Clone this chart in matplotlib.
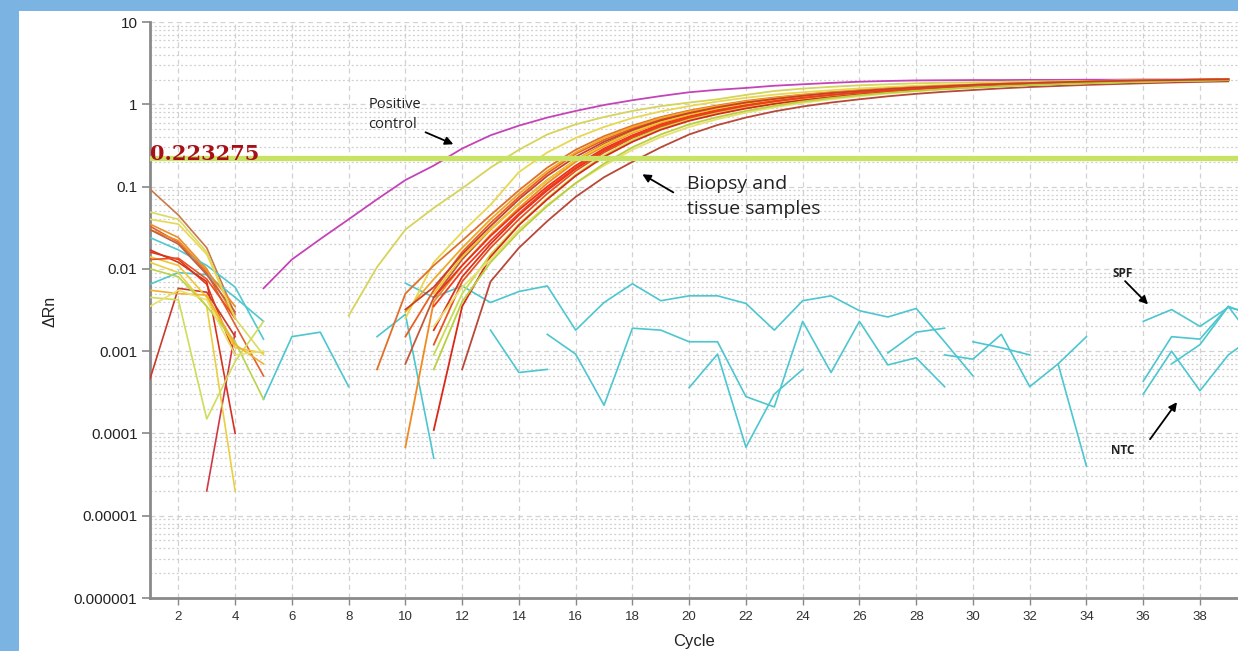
import numpy as np
import matplotlib
matplotlib.use('Agg')
import matplotlib.pyplot as plt
from matplotlib.patches import Rectangle
from matplotlib.ticker import LogLocator, FixedLocator, NullFormatter

# --- data -------------------------------------------------------------
threshold = 0.223275

early_cycles = [1, 2, 3, 4, 5]
early_curves = [
    [0.093, 0.045, 0.018, 0.0028, None],
    [0.049, 0.040, 0.016, 0.0025, 0.0009],
    [0.035, 0.024, 0.010, 0.0025, None],
    [0.033, 0.021, 0.009, 0.0021, 0.0005],
    [0.024, 0.017, 0.011, 0.0060, 0.0014],
    [0.0065, 0.009, 0.0085, 0.0045, 0.0023],
    [0.016, 0.013, 0.0065, 0.0009, None],
    [0.017, 0.012, 0.007, 0.0001, None],
    [0.00046, 0.0058, 0.0052, 0.0015, None],
    [None, None, 0.00002, 0.0017, None],
    [0.012, 0.009, 0.0035, 0.00002, None],
    [0.0045, 0.0042, 0.00015, 0.00075, 0.0023],
    [0.014, 0.011, 0.0045, 0.0011, 0.00095],
    [0.010, 0.008, 0.0035, 0.0013, 0.00026],
    [0.030, 0.022, 0.0095, 0.0035, None],
    [0.013, 0.0135, 0.0075, 0.0025, None],
    [0.0055, 0.005, 0.0048, 0.0012, 0.0007],
    [0.0035, 0.0055, 0.0042, 0.0009, 0.001],
    [0.030, 0.020, 0.0085, 0.003, None],
    [0.040, 0.035, 0.015, 0.0025, None],
]
early_colors = ['#c8784a', '#d8dc60', '#e8902a', '#e06030', '#4fc8d0', '#4fc8d0',
                '#e03a1c', '#d83020', '#c83a2a', '#d03848', '#e8d040', '#d0dc58',
                '#f0c830', '#b8d448', '#f08a28', '#e85020', '#f0b030', '#e8e070',
                '#c06040', '#e8d850']

pos_cycles = list(range(5, 40))
pos_control = [0.0058, 0.013, 0.023, 0.040, 0.070, 0.12, 0.18, 0.29, 0.42, 0.55,
               0.69, 0.83, 0.98, 1.12, 1.26, 1.40, 1.50, 1.58, 1.68, 1.75,
               1.82, 1.88, 1.92, 1.95, 1.96, 1.97, 1.97, 1.98, 1.98, 1.99,
               1.99, 2.0, 2.0, 2.0, 2.0]

amp_cycles = list(range(8, 40))
N = None
amp_curves = [
    # early yellow sample
    [0.0027, 0.0105, 0.030, 0.055, 0.095, 0.17, 0.28, 0.43, 0.57, 0.70, 0.83, 0.95, 1.05, 1.15, 1.30, 1.45,
     1.55, 1.63, 1.70, 1.75, 1.80, 1.83, 1.85, 1.87, 1.89, 1.90, 1.92, 1.93, 1.94, 1.95, 1.96, 1.97],
    [N, N, 0.0025, 0.012, 0.028, 0.06, 0.15, 0.26, 0.39, 0.53, 0.68, 0.82, 0.95, 1.08, 1.2, 1.31,
     1.4, 1.48, 1.56, 1.62, 1.68, 1.72, 1.77, 1.81, 1.85, 1.88, 1.91, 1.94, 1.96, 1.98, 2.0, 2.01],
    [N, 0.0006, 0.005, 0.011, 0.022, 0.045, 0.09, 0.17, 0.28, 0.41, 0.55, 0.7, 0.84, 0.97, 1.1, 1.21,
     1.31, 1.4, 1.48, 1.55, 1.61, 1.67, 1.72, 1.76, 1.8, 1.84, 1.87, 1.9, 1.93, 1.95, 1.97, 1.99],
    [N, N, 0.0007, 0.0045, 0.013, 0.03, 0.062, 0.12, 0.21, 0.33, 0.47, 0.62, 0.77, 0.9, 1.03, 1.15,
     1.26, 1.35, 1.44, 1.52, 1.58, 1.64, 1.69, 1.74, 1.78, 1.82, 1.85, 1.88, 1.91, 1.94, 1.96, 1.98],
    [N, N, 0.000068, 0.004, 0.011, 0.026, 0.055, 0.11, 0.2, 0.31, 0.45, 0.6, 0.74, 0.88, 1.0, 1.12,
     1.23, 1.33, 1.42, 1.5, 1.57, 1.63, 1.68, 1.73, 1.77, 1.81, 1.85, 1.88, 1.91, 1.93, 1.95, 1.97],
    [N, N, N, 0.0045, 0.011, 0.025, 0.052, 0.1, 0.18, 0.29, 0.42, 0.57, 0.71, 0.85, 0.98, 1.1,
     1.21, 1.31, 1.4, 1.48, 1.55, 1.61, 1.67, 1.72, 1.77, 1.81, 1.85, 1.89, 1.92, 1.95, 1.98, 2.0],
    [N, N, N, 0.0018, 0.008, 0.02, 0.045, 0.09, 0.165, 0.27, 0.4, 0.54, 0.68, 0.82, 0.95, 1.07,
     1.18, 1.28, 1.37, 1.46, 1.53, 1.6, 1.66, 1.71, 1.76, 1.8, 1.84, 1.88, 1.91, 1.94, 1.97, 2.0],
    [N, N, N, 0.005, 0.014, 0.03, 0.062, 0.12, 0.21, 0.32, 0.46, 0.61, 0.75, 0.89, 1.02, 1.14,
     1.25, 1.35, 1.44, 1.52, 1.59, 1.65, 1.7, 1.75, 1.79, 1.83, 1.86, 1.89, 1.92, 1.94, 1.96, 1.98],
    [N, N, N, 0.0012, 0.007, 0.018, 0.04, 0.082, 0.155, 0.26, 0.39, 0.53, 0.67, 0.8, 0.93, 1.05,
     1.16, 1.26, 1.36, 1.44, 1.52, 1.59, 1.65, 1.7, 1.75, 1.8, 1.84, 1.88, 1.91, 1.94, 1.97, 2.0],
    [N, N, N, 0.0009, 0.005, 0.015, 0.035, 0.072, 0.14, 0.24, 0.37, 0.51, 0.65, 0.78, 0.91, 1.03,
     1.14, 1.24, 1.33, 1.42, 1.49, 1.56, 1.62, 1.68, 1.73, 1.77, 1.81, 1.85, 1.88, 1.91, 1.94, 1.96],
    [N, N, N, 0.00011, 0.0035, 0.014, 0.034, 0.07, 0.135, 0.23, 0.35, 0.49, 0.63, 0.76, 0.89, 1.01,
     1.12, 1.22, 1.32, 1.41, 1.49, 1.56, 1.63, 1.69, 1.74, 1.79, 1.83, 1.87, 1.9, 1.93, 1.96, 1.99],
    [N, N, N, N, 0.0006, 0.007, 0.018, 0.038, 0.075, 0.13, 0.2, 0.3, 0.43, 0.56, 0.69, 0.82,
     0.94, 1.05, 1.15, 1.25, 1.34, 1.42, 1.49, 1.56, 1.62, 1.67, 1.72, 1.76, 1.8, 1.84, 1.87, 1.9],
    [N, N, N, 0.002, 0.006, 0.013, 0.03, 0.06, 0.11, 0.18, 0.28, 0.4, 0.53, 0.66, 0.79, 0.92,
     1.04, 1.15, 1.25, 1.35, 1.44, 1.52, 1.59, 1.65, 1.71, 1.76, 1.8, 1.84, 1.88, 1.91, 1.94, 1.97],
    [N, N, 0.0015, 0.0055, 0.016, 0.036, 0.075, 0.145, 0.25, 0.37, 0.51, 0.66, 0.8, 0.94, 1.06, 1.18,
     1.28, 1.38, 1.46, 1.54, 1.61, 1.67, 1.72, 1.77, 1.81, 1.85, 1.88, 1.91, 1.94, 1.96, 1.98, 2.0],
    [N, N, N, 0.0035, 0.0095, 0.022, 0.047, 0.094, 0.17, 0.28, 0.41, 0.56, 0.7, 0.84, 0.97, 1.09,
     1.2, 1.3, 1.39, 1.47, 1.55, 1.62, 1.68, 1.73, 1.78, 1.83, 1.87, 1.91, 1.94, 1.97, 2.0, 2.02],
    [N, N, 0.003, 0.0075, 0.018, 0.04, 0.082, 0.155, 0.26, 0.39, 0.53, 0.68, 0.82, 0.95, 1.08, 1.19,
     1.3, 1.39, 1.47, 1.55, 1.62, 1.68, 1.73, 1.78, 1.82, 1.86, 1.89, 1.92, 1.95, 1.97, 1.99, 2.01],
    [N, N, N, 0.0006, 0.004, 0.012, 0.028, 0.058, 0.11, 0.19, 0.3, 0.43, 0.57, 0.7, 0.83, 0.96,
     1.08, 1.19, 1.29, 1.38, 1.46, 1.53, 1.6, 1.66, 1.71, 1.76, 1.8, 1.84, 1.88, 1.91, 1.94, 1.97],
    [N, N, 0.0032, 0.006, 0.015, 0.033, 0.07, 0.135, 0.23, 0.35, 0.49, 0.64, 0.78, 0.92, 1.05, 1.16,
     1.27, 1.37, 1.45, 1.53, 1.6, 1.66, 1.72, 1.77, 1.81, 1.85, 1.89, 1.92, 1.95, 1.97, 1.99, 2.01],
]
amp_colors = ['#d6d45a', '#e8d850', '#e07028', '#c05a3a', '#f08a20', '#e8321a',
              '#e03018', '#f0c828', '#e85020', '#c8dc50', '#d82818', '#b84838',
              '#e8e070', '#e86020', '#f03c1c', '#f0a828', '#b8d040', '#c8402a']

# cyan wells (SPF / NTC), (cycles, values)
cyan_wells = [
    (list(range(5, 9)), [0.00026, 0.0015, 0.0017, 0.00037]),
    (list(range(9, 12)), [0.0015, 0.0028, 0.00005]),
    (list(range(10, 31)), [0.0067, 0.0045, 0.0062, 0.0039, 0.0053, 0.0062, 0.0018, 0.0039, 0.0066,
                           0.0041, 0.0047, 0.0047, 0.0038, 0.0018, 0.0041, 0.0047, 0.0031, 0.0026,
                           0.0033, 0.0013, 0.0005]),
    (list(range(13, 16)), [0.0018, 0.00055, 0.0006]),
    (list(range(15, 30)), [0.0016, 0.00092, 0.00022, 0.0019, 0.0018, 0.0013, 0.0013, 0.00028,
                           0.00021, 0.0023, 0.00055, 0.0023, 0.00068, 0.00083, 0.00037]),
    (list(range(20, 25)), [0.00036, 0.00092, 0.000068, 0.0003, 0.0006]),
    (list(range(27, 30)), [0.00095, 0.0017, 0.0019]),
    (list(range(29, 35)), [0.0009, 0.0008, 0.0016, 0.00037, 0.0007, 0.0015]),
    (list(range(30, 33)), [0.0013, 0.0011, 0.0009]),
    (list(range(33, 35)), [0.0007, 0.00004]),
    (list(range(36, 41)), [0.0023, 0.0032, 0.0020, 0.0034, 0.0028]),
    (list(range(36, 41)), [0.00043, 0.0015, 0.0014, 0.0035, 0.0026]),
    (list(range(36, 41)), [0.0003, 0.0010, 0.00033, 0.0009, 0.0016]),
    (list(range(37, 41)), [0.0007, 0.0012, 0.0035, 0.0012]),
]

y_ticks = [1e-6, 1e-5, 1e-4, 1e-3, 1e-2, 1e-1, 1, 10]
y_ticklabels = ['0.000001', '0.00001', '0.0001', '0.001', '0.01', '0.1', '1', '10']
x_ticks = list(range(2, 40, 2))

# --- figure -----------------------------------------------------------
W, H = 1238, 651
fig = plt.figure(figsize=(W / 100, H / 100), dpi=100, facecolor='#7bb3e3')
fig.patches.append(Rectangle((19 / W, 0), 1, (H - 11) / H, transform=fig.transFigure,
                             facecolor='white', edgecolor='none', zorder=-1))
ax = fig.add_axes([150 / W, (H - 598) / H, (W - 150) / W, (598 - 22) / H])
ax.set_facecolor('white')
ax.set_yscale('log')
ax.set_xlim(1, 39.34)
ax.set_ylim(1e-6, 10)

for cyc, vals in cyan_wells:
    ax.plot(cyc, vals, color='#4cc6cf', lw=1.2, zorder=2)

for vals, col in zip(early_curves, early_colors):
    ax.plot(early_cycles, np.array(vals, dtype=float), color=col, lw=1.2, zorder=3)

ax.plot(pos_cycles, pos_control, color='#c444b8', lw=1.3, zorder=3)

for vals, col in zip(amp_curves, amp_colors):
    ax.plot(amp_cycles, np.array(vals, dtype=float), color=col, lw=1.3, zorder=4)

ax.axhline(threshold, color='#c8e264', lw=3.8, zorder=6)
ax.text(1.0, 0.209, '0.223275', color='#a81018', fontsize=15, fontweight='bold',
        family='DejaVu Serif', ha='left', va='baseline', zorder=7)

# grid
ax.yaxis.set_minor_locator(LogLocator(base=10, subs=np.arange(2, 10)))
ax.yaxis.set_minor_formatter(NullFormatter())
ax.grid(which='major', color='#d2d2d2', ls=(0, (4, 3)), lw=0.9)
ax.grid(which='minor', axis='y', color='#cfcfcf', ls=(0, (1.5, 2)), lw=0.9)
ax.tick_params(which='minor', length=0)

ax.set_yticks(y_ticks)
ax.set_yticklabels(y_ticklabels)
ax.xaxis.set_major_locator(FixedLocator(x_ticks))
ax.tick_params(axis='y', which='major', length=6, width=1.2, color='#888888', pad=3,
               labelsize=11, labelcolor='#222222')
ax.tick_params(axis='x', which='major', length=5, width=1.0, color='#888888', pad=4,
               labelsize=9.5, labelcolor='#333333')
for lab in ax.get_yticklabels():
    lab.set_family('Liberation Sans')
for lab in ax.get_xticklabels():
    lab.set_family('Liberation Sans')

for s in ['top', 'right']:
    ax.spines[s].set_visible(False)
for s in ['left', 'bottom']:
    ax.spines[s].set_color('#8a8a8a')
    ax.spines[s].set_linewidth(2)

ax.set_xlabel('Cycle', fontsize=12, family='Liberation Sans', color='#222222', labelpad=8)
ax.set_ylabel('ΔRn', fontsize=11.5, family='Liberation Sans', color='#222222')
ax.yaxis.set_label_coords(-0.085, 0.497)

# annotations
arrow = dict(arrowstyle='-|>', color='black', lw=1.3, mutation_scale=12, shrinkA=0, shrinkB=0)
ax.text(8.69, 1.22, 'Positive\ncontrol', fontsize=10.5, family='Open Sans', va='top',
        ha='left', color='#222222', linespacing=1.4, zorder=8)
ax.annotate('', xy=(11.69, 0.327), xytext=(10.71, 0.457), arrowprops=arrow, zorder=8)
ax.text(19.93, 0.137, 'Biopsy and\ntissue samples', fontsize=14, family='Open Sans',
        va='top', ha='left', color='#222222', linespacing=1.45, zorder=8)
ax.annotate('', xy=(18.35, 0.141), xytext=(19.44, 0.085), arrowprops=arrow, zorder=8)
ax.text(34.93, 0.0105, 'SPF', fontsize=8.5, family='Open Sans', fontweight='bold',
        va='top', ha='left', color='#222222', zorder=8)
ax.annotate('', xy=(36.17, 0.0037), xytext=(35.36, 0.0071), arrowprops=arrow, zorder=8)
ax.text(34.86, 7.4e-5, 'NTC', fontsize=8.5, family='Open Sans', fontweight='bold',
        va='top', ha='left', color='#222222', zorder=8)
ax.annotate('', xy=(37.19, 0.00024), xytext=(36.24, 8.5e-5), arrowprops=arrow, zorder=8)

fig.savefig('out.png', dpi=100, facecolor=fig.get_facecolor())
